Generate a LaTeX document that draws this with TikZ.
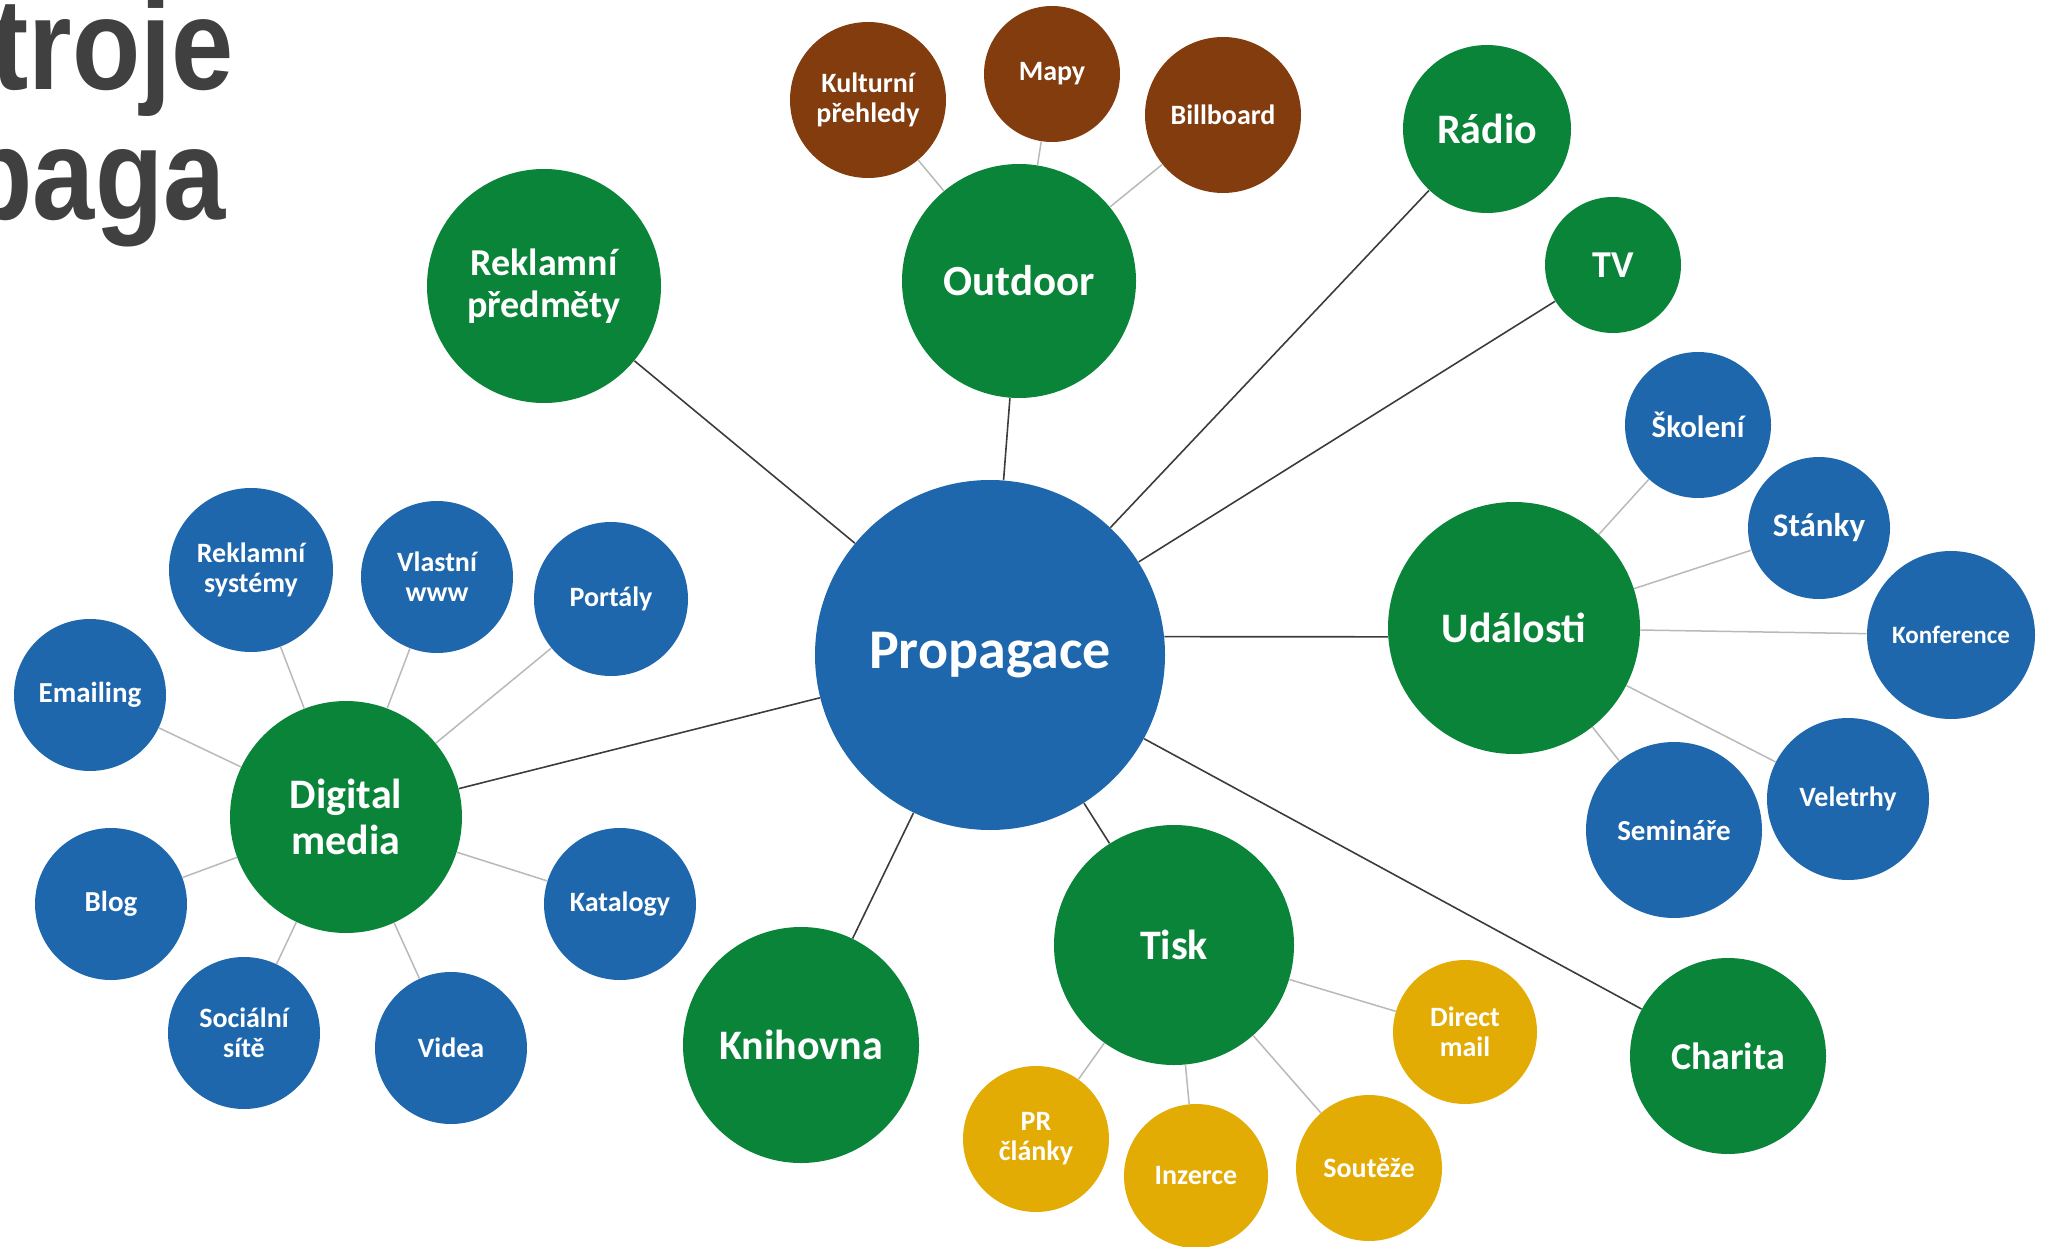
\documentclass[tikz,border=0pt]{standalone}
\usepackage{fontspec}
\setmainfont{Carlito}
\newfontfamily\titlefont{Liberation Sans}
\usetikzlibrary{positioning}
\definecolor{mapgreen}{RGB}{10,132,57}
\definecolor{mapblue}{RGB}{31,103,173}
\definecolor{mapbrown}{RGB}{130,60,14}
\definecolor{mapgold}{RGB}{226,172,5}
\definecolor{titlegray}{RGB}{64,64,64}
\definecolor{linkdark}{RGB}{60,60,60}
\definecolor{linklight}{RGB}{185,185,185}
\newcommand{\fs}[2]{\fontsize{#1pt}{#2pt}\selectfont\bfseries}

\begin{document}
\begin{tikzpicture}[x=0.5pt, y=-0.5pt,
    bubble/.style={circle, inner sep=0pt, text=white, align=center},
    hub/.style={bubble, fill=mapblue},
    topic/.style={bubble, fill=mapgreen},
    digi/.style={bubble, fill=mapblue},
    outd/.style={bubble, fill=mapbrown},
    prnt/.style={bubble, fill=mapgold},
    mainlink/.style={draw=linkdark, line width=0.8pt},
    sublink/.style={draw=linklight, line width=0.75pt}]
    \useasboundingbox (0,0) rectangle (2046,1247);
    \clip (0,0) rectangle (2046,1247);

    \node (title1) [anchor=base east, inner sep=0pt, text=titlegray] at (234,90)
        {\scalebox{0.86}[1]{\titlefont\bfseries\fontsize{65pt}{65pt}\selectfont troje}};
    \node (title2) [anchor=base east, inner sep=0pt, text=titlegray] at (226,220)
        {\scalebox{0.86}[1]{\titlefont\bfseries\fontsize{65pt}{65pt}\selectfont paga}};

    \node (hub) [hub, minimum size=175pt, font=\fs{28}{30}] at (990,655) {Propagace};

    \node (rekl) [topic, minimum size=117pt, font=\fs{19}{21}] at (544,286) {Reklamní\\předměty};
    \node (outdoor) [topic, minimum size=117pt, font=\fs{21.5}{23}] at (1019,281) {Outdoor};
    \node (radio) [topic, minimum size=84pt, font=\fs{21}{23}] at (1487,129) {Rádio};
    \node (tv) [topic, minimum size=68pt, font=\fs{19}{21}] at (1613,265) {TV};
    \node (udal) [topic, minimum size=126pt, font=\fs{21}{23}] at (1514,628) {Události};
    \node (charita) [topic, minimum size=98pt, font=\fs{19}{21}] at (1728,1056) {Charita};
    \node (tisk) [topic, minimum size=120pt, font=\fs{21}{23}] at (1174,945) {Tisk};
    \node (knih) [topic, minimum size=118pt, font=\fs{21}{23}] at (801,1045) {Knihovna};
    \node (digital) [topic, minimum size=116pt, font=\fs{21}{23}] at (346,817) {Digital\\media};

    \node (kult) [outd, minimum size=78pt, font=\fs{14}{15}] at (868,100) {Kulturní\\přehledy};
    \node (mapy) [outd, minimum size=68pt, font=\fs{14}{15}] at (1052,74) {Mapy};
    \node (billb) [outd, minimum size=78pt, font=\fs{14}{15}] at (1223,115) {Billboard};

    \node (skol) [digi, minimum size=73pt, font=\fs{15.5}{17}] at (1698,425) {Školení};
    \node (stank) [digi, minimum size=71pt, font=\fs{16.5}{18}] at (1819,528) {Stánky};
    \node (konf) [digi, minimum size=84pt, font=\fs{12.5}{14}] at (1951,635) {Konference};
    \node (velet) [digi, minimum size=81pt, font=\fs{14}{15}] at (1848,799) {Veletrhy};
    \node (semin) [digi, minimum size=88pt, font=\fs{14.5}{16}] at (1674,830) {Semináře};

    \node (direct) [prnt, minimum size=72pt, font=\fs{14}{15}] at (1465,1032) {Direct\\mail};
    \node (soutez) [prnt, minimum size=73pt, font=\fs{14}{15}] at (1369,1168) {Soutěže};
    \node (inzerce) [prnt, minimum size=72pt, font=\fs{14}{15}] at (1196,1176) {Inzerce};
    \node (prcl) [prnt, minimum size=73pt, font=\fs{14}{15}] at (1036,1139) {PR\\články};

    \node (emailing) [digi, minimum size=76pt, font=\fs{14.5}{16}] at (90,695) {Emailing};
    \node (reksys) [digi, minimum size=82pt, font=\fs{14}{15}] at (251,570) {Reklamní\\systémy};
    \node (www) [digi, minimum size=76pt, font=\fs{14}{15}] at (437,577) {Vlastní\\www};
    \node (portaly) [digi, minimum size=77pt, font=\fs{14}{15}] at (611,599) {Portály};
    \node (katalogy) [digi, minimum size=76pt, font=\fs{14}{15}] at (620,904) {Katalogy};
    \node (videa) [digi, minimum size=76pt, font=\fs{14}{15}] at (451,1048) {Videa};
    \node (social) [digi, minimum size=76pt, font=\fs{14}{15}] at (244,1033) {Sociální\\sítě};
    \node (blog) [digi, minimum size=76pt, font=\fs{14.5}{16}] at (111,904) {Blog};

    \draw[mainlink] (hub) -- (rekl);
    \draw[mainlink] (hub) -- (outdoor);
    \draw[mainlink] (hub) -- (radio);
    \draw[mainlink] (hub) -- (tv);
    \draw[mainlink] (hub.6) -- (udal.184);
    \draw[mainlink] (hub) -- (charita);
    \draw[mainlink] (hub) -- (tisk);
    \draw[mainlink] (hub) -- (knih);
    \draw[mainlink] (hub) -- (digital);

    \draw[sublink] (outdoor) -- (kult);
    \draw[sublink] (outdoor) -- (mapy);
    \draw[sublink] (outdoor) -- (billb);

    \draw[sublink] (udal) -- (skol);
    \draw[sublink] (udal) -- (stank);
    \draw[sublink] (udal) -- (konf);
    \draw[sublink] (udal) -- (velet);
    \draw[sublink] (udal) -- (semin);

    \draw[sublink] (tisk) -- (direct);
    \draw[sublink] (tisk) -- (soutez);
    \draw[sublink] (tisk) -- (inzerce);
    \draw[sublink] (tisk) -- (prcl);

    \draw[sublink] (digital) -- (emailing);
    \draw[sublink] (digital) -- (reksys);
    \draw[sublink] (digital) -- (www);
    \draw[sublink] (digital) -- (portaly);
    \draw[sublink] (digital) -- (katalogy);
    \draw[sublink] (digital) -- (videa);
    \draw[sublink] (digital) -- (social);
    \draw[sublink] (digital) -- (blog);
\end{tikzpicture}
\end{document}
